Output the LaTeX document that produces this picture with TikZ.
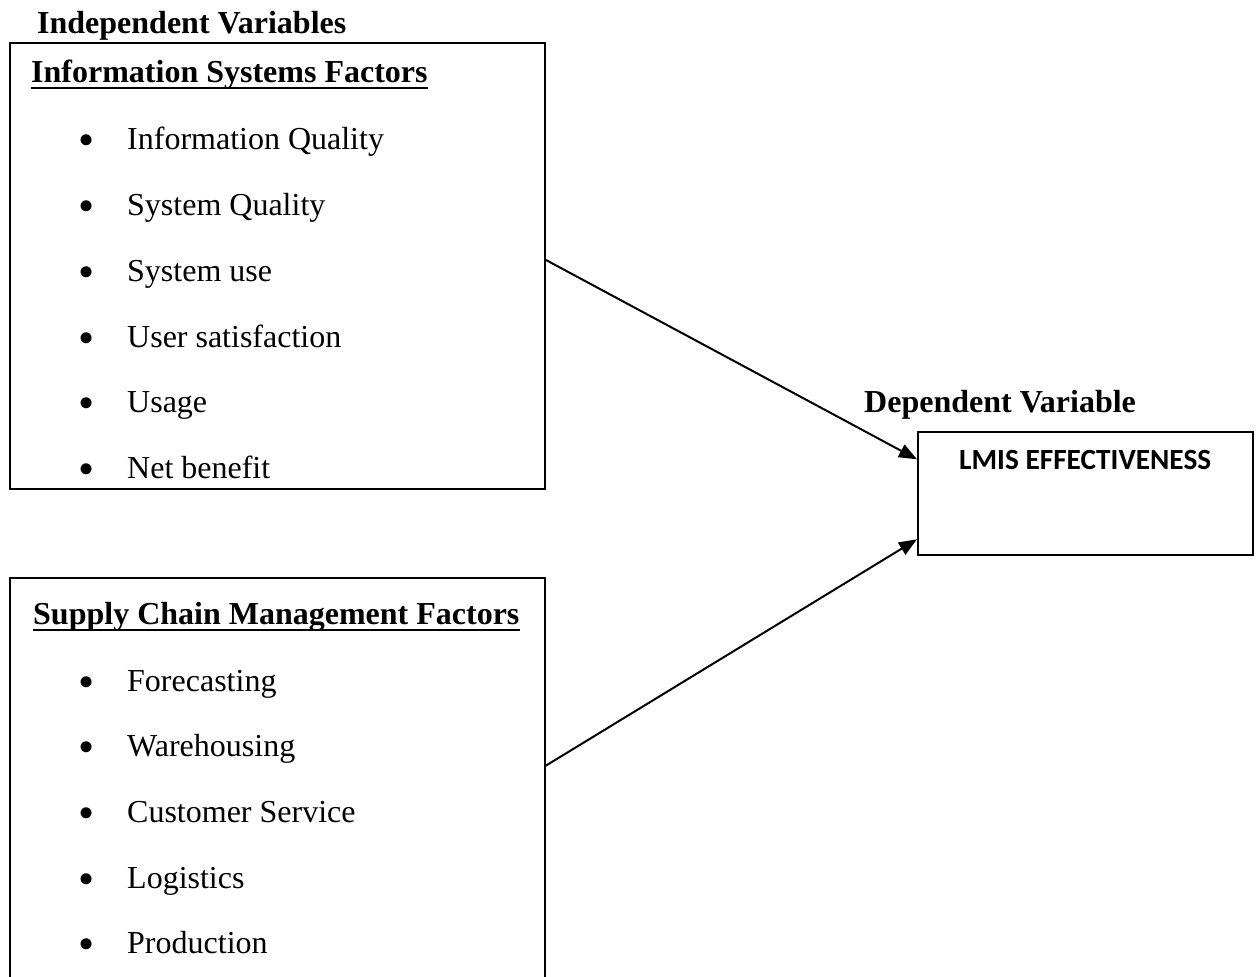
\documentclass[tikz,border=0pt]{standalone}
\usepackage{fontspec}
\setmainfont{Liberation Serif}
\newfontfamily\calibri{Carlito}
\usetikzlibrary{arrows.meta}

\newcommand{\bulletitem}[1]{\makebox[49pt][l]{\raisebox{-6pt}{\fontsize{46}{46}\selectfont\textbullet}}#1}

\tikzset{
  factorbox/.style={draw, line width=1.6pt, anchor=north west, inner sep=0pt},
  item/.style={anchor=base west, inner sep=0pt, font=\fontsize{32}{38}\selectfont},
  heading/.style={anchor=base west, inner sep=0pt, font=\fontsize{32}{38}\selectfont\bfseries},
  underbar/.style={line width=2.4pt},
  link/.style={line width=2pt, -{Triangle[length=18pt,width=14pt]}}
}

\begin{document}
\begin{tikzpicture}[x=1pt,y=-1pt]
    \useasboundingbox (0,0) rectangle (1256,977);
    \node[heading] (indep) at (37, 33) {Independent Variables};
    \node[factorbox, minimum width=535pt, minimum height=446pt] (isf) at (9, 42) {};
    \node[heading] (isfhead) at (31, 82) {Information Systems Factors};
    \draw[underbar] ([yshift=-6pt]isfhead.base west) -- ([yshift=-6pt]isfhead.base east);
    \node[item] (iq) at (78, 149) {\bulletitem{Information Quality}};
    \node[item] (sq) at (78, 215) {\bulletitem{System Quality}};
    \node[item] (su) at (78, 281) {\bulletitem{System use}};
    \node[item] (us) at (78, 347) {\bulletitem{User satisfaction}};
    \node[item] (ug) at (78, 412) {\bulletitem{Usage}};
    \node[item] (nb) at (78, 478) {\bulletitem{Net benefit}};
    \node[factorbox, minimum width=535pt, minimum height=420pt] (scm) at (9, 577) {};
    \node[heading] (scmhead) at (33, 624) {Supply Chain Management Factors};
    \draw[underbar] ([yshift=-6pt]scmhead.base west) -- ([yshift=-6pt]scmhead.base east);
    \node[item] (fc) at (78, 691) {\bulletitem{Forecasting}};
    \node[item] (wh) at (78, 756) {\bulletitem{Warehousing}};
    \node[item] (cs) at (78, 822) {\bulletitem{Customer Service}};
    \node[item] (lg) at (78, 888) {\bulletitem{Logistics}};
    \node[item] (pr) at (78, 953) {\bulletitem{Production}};
    \node[heading] (dep) at (864, 412) {Dependent Variable};
    \node[factorbox, minimum width=335pt, minimum height=123pt] (lmis) at (917, 431) {};
    \node[anchor=base west, inner sep=0pt, font=\calibri\bfseries\fontsize{29.3}{34}\selectfont] (lmistext) at (959, 469) {LMIS EFFECTIVENESS};
    \draw[link] ([yshift=6pt]isf.east) -- ([yshift=34pt]lmis.west);
    \draw[link] ([yshift=22pt]scm.east) -- ([yshift=-46pt]lmis.west);
  \end{tikzpicture}
\end{document}
